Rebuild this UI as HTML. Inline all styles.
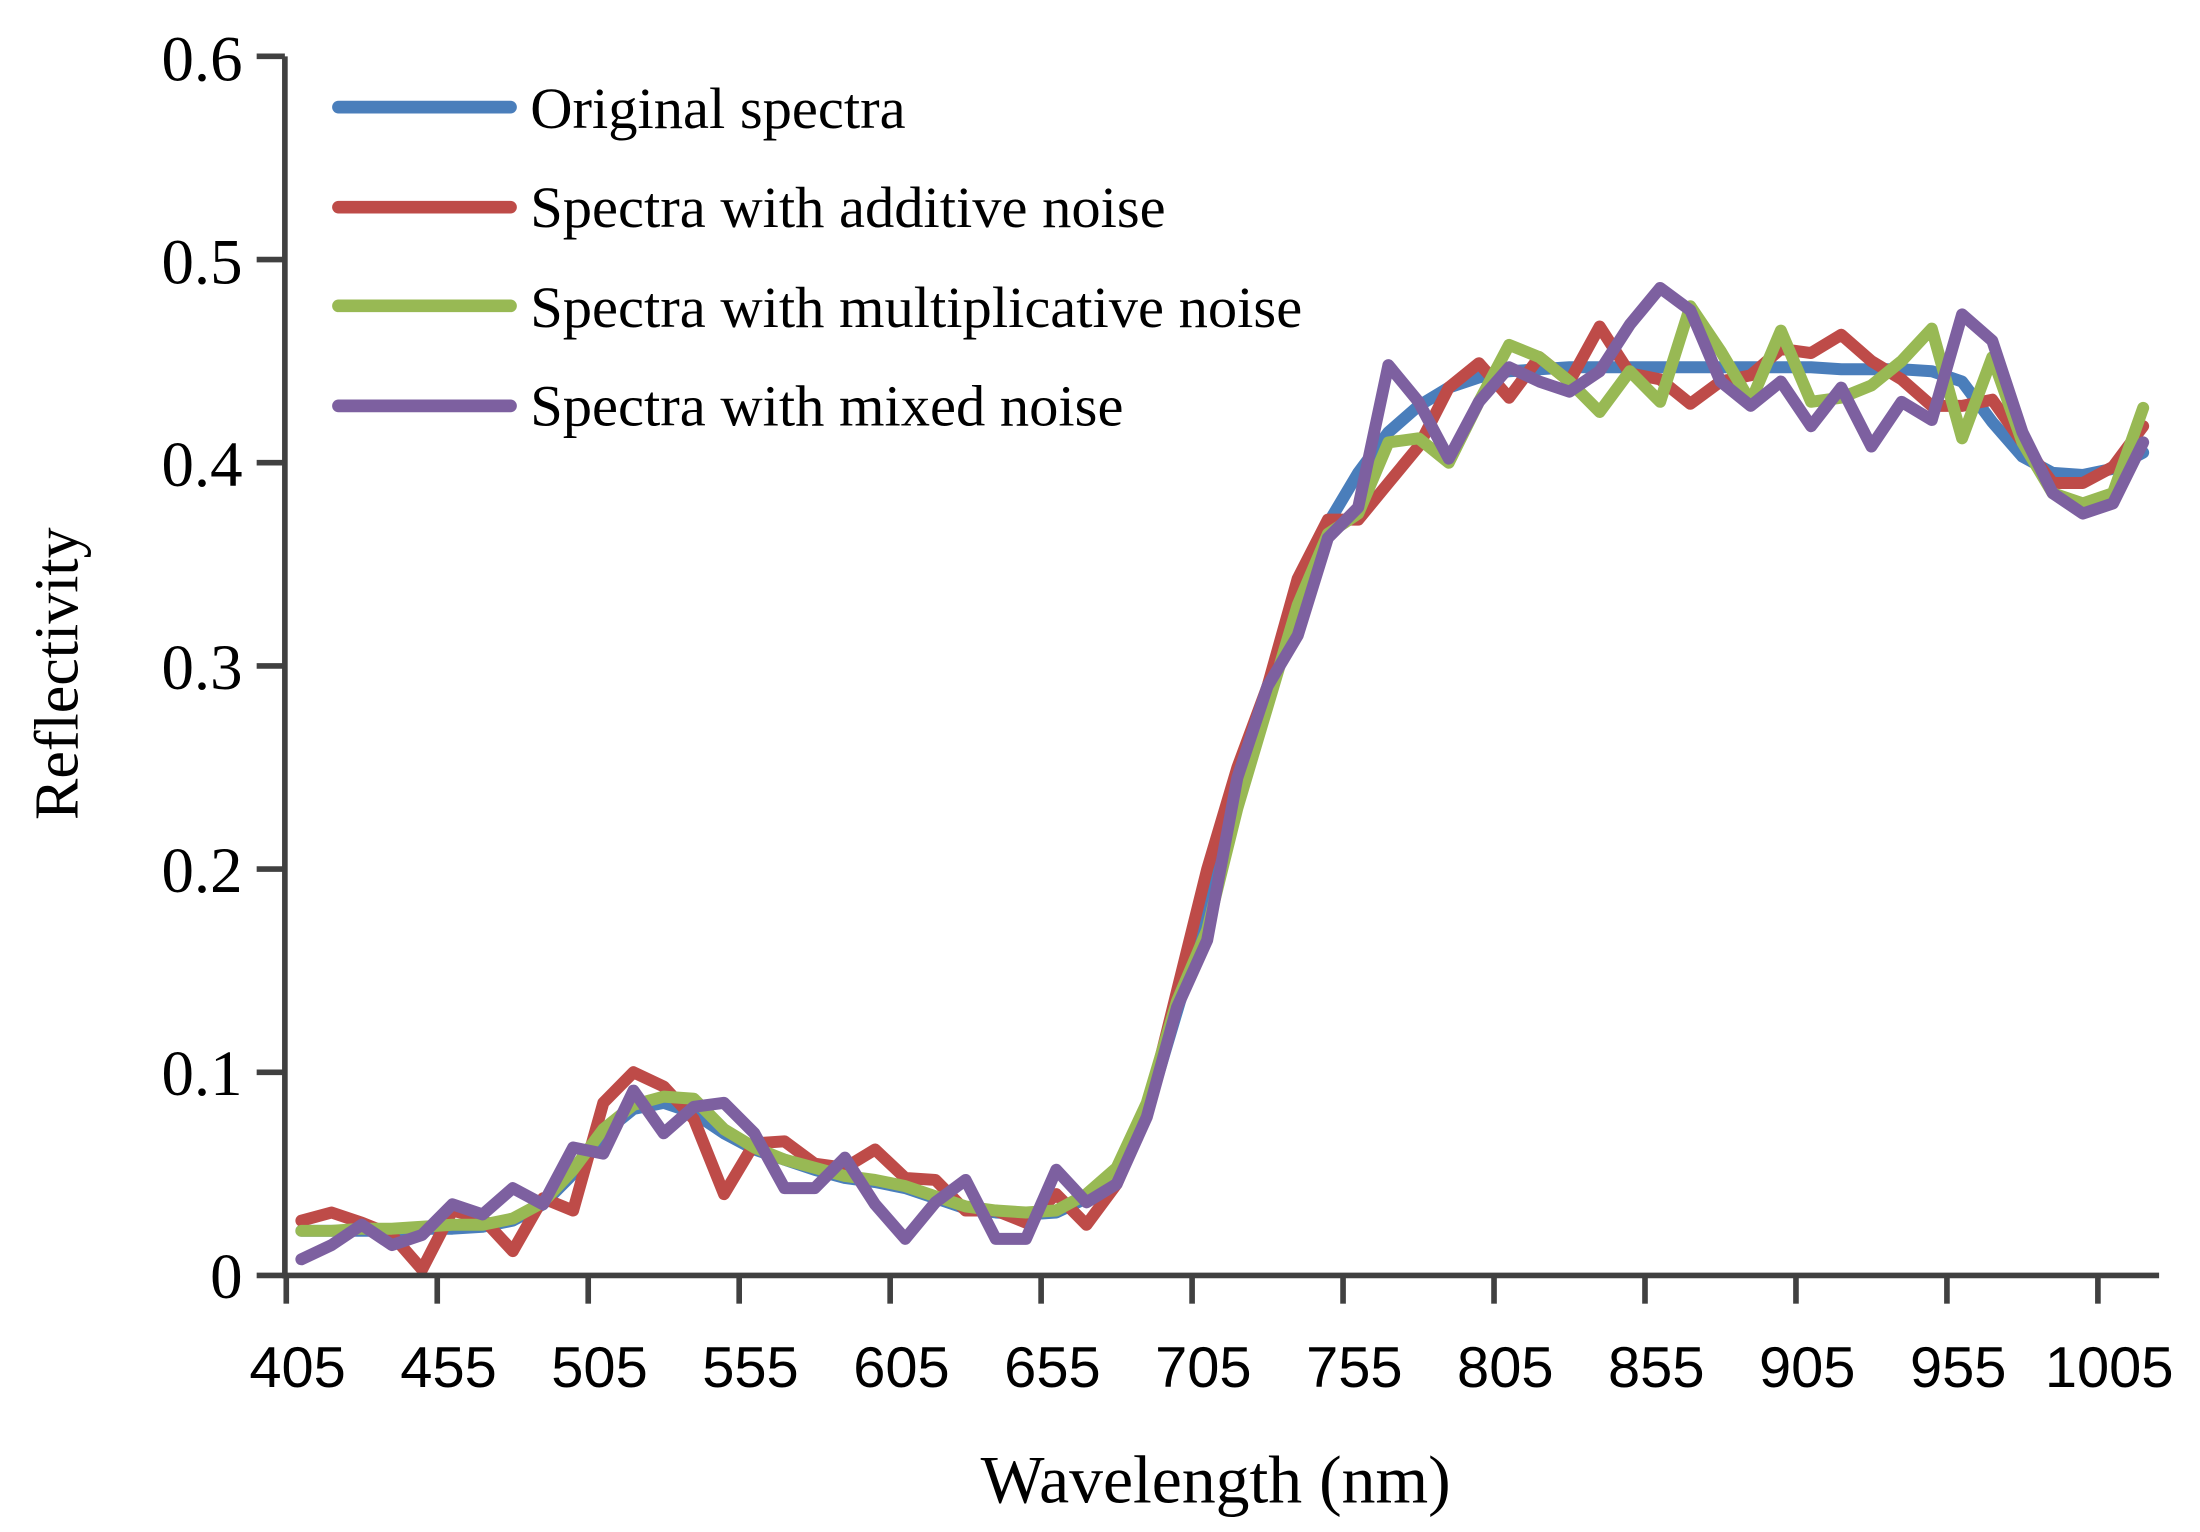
<!DOCTYPE html>
<html><head><meta charset="utf-8"><style>
html,body{margin:0;padding:0;background:#fff;}
svg{display:block;}
</style></head><body>
<svg id="c" width="2200" height="1532" viewBox="0 0 1560 1087" preserveAspectRatio="none" xmlns="http://www.w3.org/2000/svg">
<rect width="1560" height="1087" fill="#fff"/>
<g id="series" fill="none" stroke-width="8.5" stroke-linejoin="round" stroke-linecap="round"></g>
<g stroke="#404040" stroke-width="4" fill="none">
<line x1="202" y1="40" x2="202" y2="907"/>
<line x1="200" y1="905" x2="1531" y2="905"/>
<g id="ticks"></g>
</g>
<g font-family="Liberation Serif, serif" font-size="46" text-anchor="end" fill="#000">
<text x="172" y="921">0</text>
<text x="172" y="777">0.1</text>
<text x="172" y="633">0.2</text>
<text x="172" y="489">0.3</text>
<text x="172" y="345">0.4</text>
<text x="172" y="201">0.5</text>
<text x="172" y="57">0.6</text>
</g>
<g id="xl" font-family="Liberation Sans, sans-serif" font-size="41" text-anchor="middle" fill="#000"></g>
<text x="862" y="1066" font-family="Liberation Serif, serif" font-size="48" text-anchor="middle">Wavelength (nm)</text>
<text transform="translate(55,478) rotate(-90)" font-family="Liberation Serif, serif" font-size="44" text-anchor="middle">Reflectivity</text>
<g stroke-width="9" stroke-linecap="round">
<line x1="240" y1="76" x2="362" y2="76" stroke="#4a7ebb"/>
<line x1="240" y1="147" x2="362" y2="147" stroke="#be4b48"/>
<line x1="240" y1="217" x2="362" y2="217" stroke="#98b954"/>
<line x1="240" y1="288" x2="362" y2="288" stroke="#7d60a0"/>
</g>
<g font-family="Liberation Serif, serif" font-size="41.5" fill="#000">
<text x="376" y="91">Original spectra</text>
<text x="376" y="161">Spectra with additive noise</text>
<text x="376" y="232">Spectra with multiplicative noise</text>
<text x="376" y="302">Spectra with mixed noise</text>
</g>
</svg>
<script>
var NS="http://www.w3.org/2000/svg";
function X(nm){return 203+(nm-405)*2.141;}
function Y(v){return 905-v*1441.7;}
var t=document.getElementById('ticks'),xl=document.getElementById('xl');
for(var i=0;i<=12;i++){var nm=405+i*50,x=X(nm);
var l=document.createElementNS(NS,'line');l.setAttribute('x1',x);l.setAttribute('x2',x);l.setAttribute('y1',905);l.setAttribute('y2',925);t.appendChild(l);
var tx=document.createElementNS(NS,'text');tx.setAttribute('x',x+8);tx.setAttribute('y',984);tx.textContent=nm;xl.appendChild(tx);}
for(var j=0;j<=6;j++){var y=905-j*144.17;var l2=document.createElementNS(NS,'line');l2.setAttribute('x1',182);l2.setAttribute('x2',202);l2.setAttribute('y1',y);l2.setAttribute('y2',y);t.appendChild(l2);}
var blue=[.022,.022,.022,.022,.023,.023,.024,.027,.035,.05,.07,.082,.085,.08,.07,.062,.057,.052,.048,.046,.043,.038,.033,.031,.030,.031,.038,.05,.08,.13,.18,.24,.29,.335,.37,.395,.415,.428,.437,.442,.445,.446,.447,.447,.447,.447,.447,.447,.447,.447,.447,.446,.446,.446,.445,.44,.42,.403,.395,.394,.397,.405];
var red=[.027,.031,.026,.02,.003,.032,.028,.012,.038,.032,.085,.1,.093,.077,.04,.065,.066,.055,.053,.062,.048,.047,.032,.032,.026,.04,.025,.045,.08,.14,.2,.25,.29,.343,.372,.372,.39,.408,.437,.449,.432,.452,.44,.467,.444,.441,.429,.44,.443,.456,.454,.463,.45,.441,.428,.428,.431,.41,.39,.39,.398,.418];
var green=[.022,.022,.023,.023,.024,.025,.025,.028,.036,.052,.072,.084,.088,.087,.072,.063,.057,.053,.049,.047,.044,.039,.034,.032,.031,.032,.04,.053,.085,.135,.17,.23,.28,.33,.365,.375,.41,.412,.40,.43,.458,.452,.44,.425,.445,.43,.477,.455,.43,.465,.43,.432,.438,.45,.466,.412,.452,.41,.385,.38,.385,.427];
var purple=[.008,.015,.025,.015,.02,.035,.03,.043,.035,.063,.06,.091,.07,.083,.085,.07,.043,.043,.058,.035,.018,.036,.047,.018,.018,.052,.036,.045,.078,.132,.165,.245,.29,.315,.363,.378,.448,.43,.402,.43,.447,.44,.435,.445,.468,.486,.475,.44,.428,.44,.418,.437,.408,.43,.421,.473,.46,.415,.385,.375,.38,.41];
var g=document.getElementById('series');
[[blue,'#4a7ebb'],[red,'#be4b48'],[green,'#98b954'],[purple,'#7d60a0']].forEach(function(s){
var p=s[0].map(function(v,k){return X(410+k*10).toFixed(1)+','+Y(v).toFixed(1);}).join(' ');
var pl=document.createElementNS(NS,'polyline');pl.setAttribute('points',p);pl.setAttribute('stroke',s[1]);g.appendChild(pl);});
</script>
</body></html>
